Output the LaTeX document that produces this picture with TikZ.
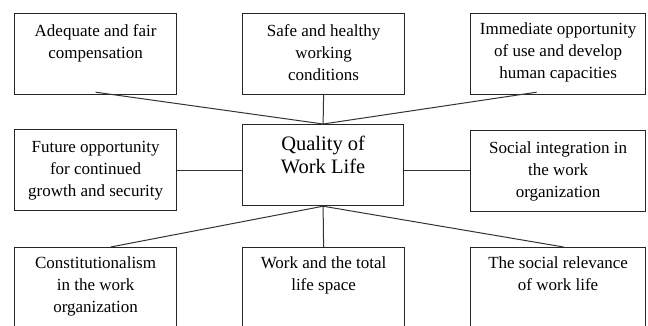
\documentclass[tikz,border=0pt]{standalone}
\usepackage{fontspec}
\setmainfont{Liberation Serif}
\begin{document}
\begin{tikzpicture}[x=1pt,y=-1pt,
  box/.style={draw=black!85, line width=1.2pt, anchor=north west, inner sep=0pt,
              minimum width=162pt, minimum height=81pt},
  wbox/.style={box, minimum width=175pt},
  txt/.style={anchor=north, align=center, inner sep=0pt,
              font=\fontsize{17}{22}\selectfont},
  ctxt/.style={anchor=north, align=center, inner sep=0pt,
              font=\fontsize{20.5}{23}\selectfont},
  link/.style={draw=black!80, line width=1pt}]
\clip (0,0) rectangle (648,325);
\fill[white] (0,0) rectangle (648,325);
% boxes
\node[box]  (b1) at (14,13)  {};
\node[box]  (b2) at (242,13) {};
\node[wbox] (b3) at (470,13) {};
\node[box]  (b4) at (14,129) {};
\node[box, minimum width=161pt] (c) at (242,124) {};
\node[wbox] (b6) at (470,130) {};
\node[box]  (b7) at (14,247) {};
\node[box]  (b8) at (242,247) {};
\node[wbox] (b9) at (470,247) {};
% texts
\node[txt] (t1) at ([yshift=-7.6pt]b1.north) {\strut Adequate and fair\\compensation};
\node[txt] (t2) at ([yshift=-7.6pt]b2.north) {\strut Safe and healthy\\working\\conditions};
\node[txt] (t3) at ([yshift=-6pt]b3.north) {\strut Immediate opportunity\\of use and develop\\human capacities};
\node[txt] (t4) at ([yshift=-7.6pt]b4.north) {\strut Future opportunity\\for continued\\growth and security};
\node[ctxt] (tc) at ([yshift=-10pt]c.north) {\strut Quality of\\Work Life};
\node[txt] (t6) at ([yshift=-7.6pt]b6.north) {\strut Social integration in\\the work\\organization};
\node[txt] (t7) at ([yshift=-6pt]b7.north) {\strut Constitutionalism\\in the work\\organization};
\node[txt] (t8) at ([yshift=-6pt]b8.north) {\strut Work and the total\\life space};
\node[txt] (t9) at ([yshift=-6pt]b9.north) {\strut The social relevance\\of work life};
% connectors
\draw[link] ([yshift=3pt]b1.south) -- (c.north);
\draw[link] (b2.south) -- (c.north);
\draw[link] ([xshift=-21.5pt,yshift=3pt]b3.south) -- (c.north);
\draw[link] (b4.east) -- (c.west |- b4.east);
\draw[link] (c.east |- b4.east) -- (b6.west |- b4.east);
\draw[link] (c.south) -- ([xshift=15pt]b7.north);
\draw[link] (c.south) -- (b8.north);
\draw[link] (c.south) -- ([xshift=5.5pt]b9.north);
\end{tikzpicture}
\end{document}
